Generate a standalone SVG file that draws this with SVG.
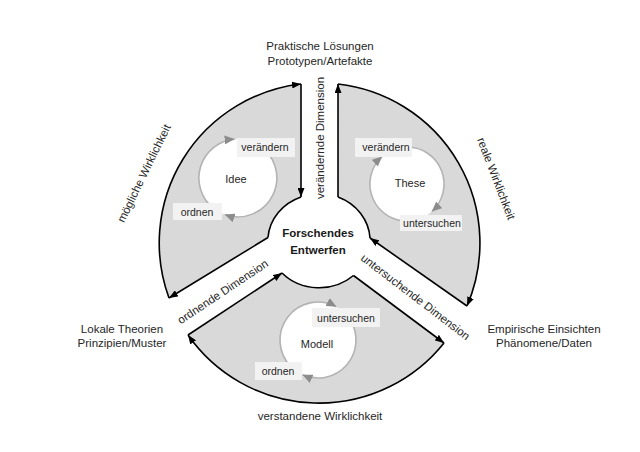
<svg xmlns="http://www.w3.org/2000/svg" width="640" height="452" viewBox="0 0 640 452">
<defs>
<style>
.sector{fill:#d9d9d9;stroke:none}
.edge{fill:none;stroke:#000;stroke-width:1.6}
.arr{marker-end:url(#ah)}
.disc{fill:#fff;stroke:none}
.cyc{fill:none;stroke:#b3b3b3;stroke-width:1.6;marker-end:url(#ag)}
.lbox{fill:#f2f2f2;stroke:none}
text{font-family:"Liberation Sans",Arial,sans-serif;fill:#262626}
.outer{font-size:11.5px;text-anchor:middle}
.dim{font-size:11.5px;text-anchor:middle}
.name{font-size:11px;text-anchor:middle}
.small{font-size:10.5px;text-anchor:middle}
.center{font-size:11.5px;font-weight:bold;text-anchor:middle;fill:#1a1a1a}
</style>
<marker id="ah" viewBox="0 0 9 7" refX="9" refY="3.5" markerWidth="9" markerHeight="7" markerUnits="userSpaceOnUse" orient="auto"><path d="M0,0 L9,3.5 L0,7 Z" fill="#000"/></marker>
<marker id="ag" viewBox="0 0 10 9" refX="10" refY="4.5" markerWidth="10" markerHeight="9" markerUnits="userSpaceOnUse" orient="auto"><path d="M0,0 L10,4.5 L0,9 Z" fill="#8c8c8c"/></marker>
</defs>
<rect width="640" height="452" fill="#fff"/>

<g id="sector-idee">
<path class="sector" d="M301,84 L301,197 A51,47 0 0 0 268,237.5 L169,298 A160,160 0 0 1 301,84 Z"/>
<circle class="disc" cx="238" cy="178" r="39"/>
<path class="cyc" d="M212.9,207.9 A39,39 0 0 1 234.6,139.1"/>
<path class="cyc" d="M257.5,144.2 A39,39 0 0 1 224.7,214.6"/>
<rect class="lbox" x="237" y="138" width="58" height="19"/>
<text class="small" x="265" y="151">verändern</text>
<rect class="lbox" x="173" y="203" width="49" height="17"/>
<text class="small" x="197" y="215.5">ordnen</text>
<text class="name" x="236" y="183">Idee</text>
</g>

<g id="sector-these">
<path class="sector" d="M338,84 A160,160 0 0 1 467,306 L370,238 A51,47 0 0 0 338,197 Z"/>
<circle class="disc" cx="407" cy="184" r="37"/>
<path class="cyc" d="M410.2,220.9 A37,37 0 0 1 382.2,156.5"/>
<path class="cyc" d="M407,147 A37,37 0 0 1 431.8,211.5"/>
<rect class="lbox" x="355" y="138" width="57" height="19"/>
<text class="small" x="386" y="150.5">verändern</text>
<rect class="lbox" x="400" y="215" width="62" height="16"/>
<text class="small" x="432" y="227">untersuchen</text>
<text class="name" x="410" y="187">These</text>
</g>

<g id="sector-modell">
<path class="sector" d="M188,335 L282,273 A51,47 0 0 0 353.5,275.5 L444,343 A160,160 0 0 1 188,335 Z"/>
<circle class="disc" cx="318" cy="340" r="38"/>
<path class="cyc" d="M291.1,366.9 A38,38 0 0 1 336.4,306.8"/>
<path class="cyc" d="M350.9,321 A38,38 0 0 1 302.5,374.7"/>
<rect class="lbox" x="312" y="308" width="68" height="19"/>
<text class="small" x="346" y="322">untersuchen</text>
<rect class="lbox" x="255" y="362" width="47" height="18"/>
<text class="small" x="278" y="374.5">ordnen</text>
<text class="name" x="317" y="348">Modell</text>
</g>

<g id="connectors">
<path class="edge arr" d="M169,298 A160,160 0 0 1 301,84"/>
<path class="edge arr" d="M301,84 L301,197"/>
<path class="edge" d="M301,197 A51,47 0 0 0 268,237.5"/>
<path class="edge arr" d="M268,237.5 L169,298"/>
<path class="edge arr" d="M338,197 L338,84"/>
<path class="edge arr" d="M338,84 A160,160 0 0 1 467,306"/>
<path class="edge arr" d="M467,306 L370,238"/>
<path class="edge" d="M370,238 A51,47 0 0 0 338,197"/>
<path class="edge arr" d="M188,335 L282,273"/>
<path class="edge" d="M282,273 A51,47 0 0 0 353.5,275.5"/>
<path class="edge arr" d="M353.5,275.5 L444,343"/>
<path class="edge arr" d="M444,343 A160,160 0 0 1 188,335"/>
</g>

<g id="center">
<text class="center" x="318" y="237">Forschendes</text>
<text class="center" x="318" y="254">Entwerfen</text>
</g>

<g id="dimension-labels">
<text class="dim" transform="translate(324,138) rotate(-90)">verändernde Dimension</text>
<text class="dim" transform="translate(225,295) rotate(-33.7)">ordnende Dimension</text>
<text class="dim" transform="translate(413,300) rotate(37.4)">untersuchende Dimension</text>
</g>

<g id="top-label">
<text class="outer" x="320" y="50">Praktische Lösungen</text>
<text class="outer" x="320" y="65">Prototypen/Artefakte</text>
</g>
<g id="left-label">
<text class="outer" x="122" y="333">Lokale Theorien</text>
<text class="outer" x="122" y="347">Prinzipien/Muster</text>
</g>
<g id="right-label">
<text class="outer" x="544" y="333">Empirische Einsichten</text>
<text class="outer" x="544" y="347">Phänomene/Daten</text>
</g>
<g id="reality-labels">
<text class="outer" transform="translate(147.5,175) rotate(-64)">mögliche Wirklichkeit</text>
<text class="outer" transform="translate(492.5,180) rotate(69)">reale Wirklichkeit</text>
<text class="outer" x="320" y="420">verstandene Wirklichkeit</text>
</g>
</svg>
